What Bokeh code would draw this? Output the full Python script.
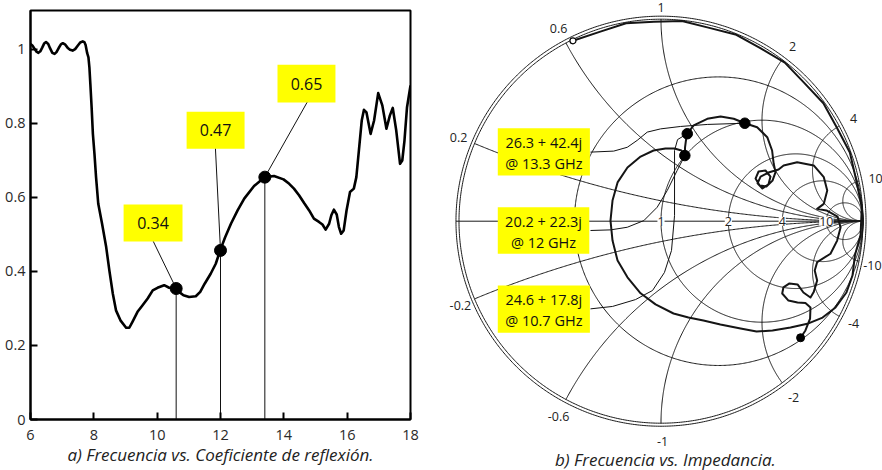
import numpy as np
from bokeh.plotting import figure
from bokeh.layouts import row
from bokeh.models import Range1d, FixedTicker
from bokeh.core.properties import value
from bokeh.embed import file_html
from bokeh.resources import INLINE

FONT = "Open Sans"
INK = "#111111"

# ---------------- panel a) data ----------------
freq = [6.0, 6.06, 6.12, 6.19, 6.25, 6.31, 6.37, 6.43, 6.49, 6.56, 6.62, 6.69, 6.76, 6.82,
        6.89, 6.96, 7.02, 7.1, 7.17, 7.25, 7.33, 7.41, 7.49, 7.57, 7.65, 7.7, 7.74, 7.79,
        7.83, 7.86, 7.89, 7.93, 7.97, 8.02, 8.07, 8.14, 8.26, 8.39, 8.49, 8.6, 8.7, 8.84,
        9.02, 9.12, 9.22, 9.38, 9.54, 9.7, 9.86, 10.01, 10.22, 10.38, 10.57, 10.69, 10.83,
        11.01, 11.22, 11.36, 11.5, 11.69, 11.85, 11.99, 12.14, 12.33, 12.54, 12.75, 13.06,
        13.27, 13.43, 13.69, 13.99, 14.17, 14.32, 14.48, 14.64, 14.8, 14.95, 15.11, 15.22,
        15.32, 15.43, 15.5, 15.58, 15.67, 15.74, 15.81, 15.89, 15.98, 16.09, 16.21, 16.29,
        16.37, 16.46, 16.53, 16.61, 16.74, 16.85, 16.98, 17.11, 17.24, 17.35, 17.44, 17.55,
        17.67, 17.74, 17.81, 17.89, 18.0]
refl = [1.015, 1.011, 1.003, 0.994, 0.991, 0.995, 1.005, 1.016, 1.02, 1.015, 1.003, 0.991,
        0.988, 0.993, 1.004, 1.014, 1.017, 1.013, 1.005, 0.999, 0.997, 1.001, 1.01, 1.019,
        1.022, 1.02, 1.012, 0.99, 0.979, 0.952, 0.907, 0.844, 0.772, 0.718, 0.655, 0.583,
        0.529, 0.466, 0.403, 0.34, 0.295, 0.268, 0.248, 0.248, 0.264, 0.291, 0.309, 0.327,
        0.349, 0.356, 0.363, 0.356, 0.354, 0.345, 0.336, 0.331, 0.333, 0.345, 0.367, 0.394,
        0.421, 0.457, 0.491, 0.529, 0.565, 0.597, 0.631, 0.646, 0.655, 0.658, 0.649, 0.637,
        0.624, 0.606, 0.585, 0.565, 0.543, 0.534, 0.527, 0.513, 0.529, 0.552, 0.567, 0.554,
        0.52, 0.502, 0.511, 0.565, 0.615, 0.624, 0.655, 0.727, 0.808, 0.837, 0.83, 0.772,
        0.808, 0.882, 0.849, 0.786, 0.822, 0.842, 0.781, 0.691, 0.7, 0.754, 0.844, 0.903]

mark_f = [10.6, 12.0, 13.4]
mark_g = [0.354, 0.457, 0.655]
mark_labels = ["0.34", "0.47", "0.65"]
box_left = [8.94, 10.93, 13.80]
box_right = [10.80, 12.76, 15.63]
box_bottom = [0.481, 0.732, 0.857]
box_top = [0.581, 0.832, 0.959]
leader_f = [9.874, 11.84, 14.74]
leader_g = [0.482, 0.733, 0.858]

x_ticks = [6, 8, 10, 12, 14, 16, 18]
y_ticks = [0, 0.2, 0.4, 0.6, 0.8, 1.0]
y_tick_labels = ["0", "0.2", "0.4", "0.6", "0.8", "1"]

# ---------------- panel b) data (reflection coefficient, re / im) ----------------
gam_re = [-0.436, -0.304, -0.173, -0.035, 0.104, 0.239, 0.373, 0.494, 0.613, 0.709, 0.804,
          0.871, 0.935, 0.966, 0.994, 0.988, 0.960, 0.948, 0.918, 0.864, 0.800, 0.730, 0.641,
          0.552, 0.473, 0.394, 0.294, 0.210, 0.136, 0.062, -0.027, -0.101, -0.166, -0.215,
          -0.240, -0.250, -0.240, -0.215, -0.166, -0.101, -0.037, 0.022, 0.067, 0.101, 0.118,
          0.119, 0.124, 0.130, 0.162, 0.229, 0.295, 0.360, 0.415, 0.476, 0.526, 0.550, 0.558,
          0.567, 0.552, 0.522, 0.488, 0.468, 0.483, 0.517, 0.542, 0.532, 0.502, 0.478, 0.493,
          0.532, 0.582, 0.607, 0.674, 0.756, 0.806, 0.823, 0.806, 0.773, 0.819, 0.874, 0.889,
          0.872, 0.839, 0.773, 0.761, 0.773, 0.756, 0.740, 0.705, 0.676, 0.636, 0.606, 0.600,
          0.631, 0.676, 0.715, 0.740, 0.738, 0.715, 0.691]
gam_im = [0.893, 0.937, 0.980, 0.987, 0.991, 0.957, 0.923, 0.855, 0.785, 0.685, 0.584,
          0.463, 0.340, 0.205, 0.070, -0.069, -0.169, -0.269, -0.353, -0.427, -0.477, -0.506,
          -0.526, -0.541, -0.546, -0.531, -0.511, -0.492, -0.477, -0.457, -0.412, -0.357,
          -0.278, -0.195, -0.096, 0.003, 0.102, 0.192, 0.266, 0.320, 0.350, 0.360, 0.360,
          0.350, 0.325, 0.365, 0.404, 0.433, 0.474, 0.507, 0.518, 0.507, 0.485, 0.465, 0.416,
          0.350, 0.284, 0.243, 0.201, 0.172, 0.177, 0.211, 0.246, 0.251, 0.221, 0.182, 0.162,
          0.187, 0.221, 0.241, 0.256, 0.276, 0.292, 0.276, 0.218, 0.152, 0.086, 0.061, 0.053,
          0.023, -0.031, -0.096, -0.161, -0.203, -0.244, -0.294, -0.351, -0.378, -0.353,
          -0.313, -0.308, -0.328, -0.358, -0.393, -0.402, -0.405, -0.427, -0.482, -0.541,
          -0.577]

smith_mark_re = [0.118, 0.130, 0.415]
smith_mark_im = [0.325, 0.433, 0.485]

callout_line1 = ["26.3 + 42.4j", "20.2 + 22.3j", "24.6 + 17.8j"]
callout_line2 = ["@ 13.3 GHz", "@ 12 GHz", "@ 10.7 GHz"]
callout_left = [-0.808, -0.808, -0.808]
callout_right = [-0.352, -0.355, -0.352]
callout_top = [0.460, 0.069, -0.318]
callout_bottom = [0.226, -0.161, -0.552]
callout_y1 = [0.390, -0.001, -0.388]
callout_y2 = [0.285, -0.105, -0.492]

leader1_re = [-0.349, -0.234, -0.167, -0.118, -0.068, -0.002, 0.097, 0.229, 0.415]
leader1_im = [0.342, 0.347, 0.366, 0.400, 0.441, 0.457, 0.469, 0.479, 0.485]
leader2_re = [-0.349, -0.250, -0.167, -0.085, -0.019, 0.031, 0.080, 0.118]
leader2_im = [-0.046, -0.043, -0.030, 0.003, 0.069, 0.152, 0.251, 0.325]
leader3_re = [-0.349, -0.240, -0.126, -0.042, 0.017, 0.052, 0.067, 0.067, 0.067, 0.082, 0.130]
leader3_im = [-0.434, -0.422, -0.388, -0.343, -0.254, -0.145, 0.028, 0.226, 0.350, 0.404, 0.433]

r_grid = [0.4, 1, 2, 4, 10]
x_grid = [0.2, 0.6, 1, 2, 4, 10]
r_axis_labels = [1, 2, 4, 10]

edge_labels = ["1", "2", "4", "10", "-10", "-4", "-2", "-1", "-0.6", "-0.2", "0.2", "0.6"]
edge_re = [0.0, 0.651, 0.953, 1.062, 1.047, 0.953, 0.656, 0.0074, -0.507, -0.993, -1.002, -0.507]
edge_im = [1.058, 0.865, 0.508, 0.211, -0.219, -0.506, -0.872, -1.093, -0.969, -0.417, 0.414, 0.954]

# ================= panel a =================
p1 = figure(width=440, height=470, x_range=Range1d(6, 18), y_range=Range1d(0, 1.1054),
            output_backend="svg", toolbar_location=None, title=None,
            min_border_left=30, min_border_right=30, min_border_top=10, min_border_bottom=51)
p1.frame_align = False
p1.grid.visible = False
p1.outline_line_color = "black"
p1.outline_line_width = 2
p1.xaxis.ticker = FixedTicker(ticks=x_ticks)
p1.yaxis.ticker = FixedTicker(ticks=y_ticks)
p1.yaxis.major_label_overrides = {t: l for t, l in zip(y_ticks, y_tick_labels)}
for ax in (p1.xaxis[0], p1.yaxis[0]):
    ax.axis_line_width = 2
    ax.axis_line_color = "black"
    ax.major_tick_in = 7
    ax.major_tick_out = 0
    ax.major_tick_line_width = 2
    ax.minor_tick_line_color = None
    ax.major_label_text_font = FONT
    ax.major_label_text_font_size = "14.5px"
    ax.major_label_text_color = "#2a2a2a"
p1.yaxis.major_label_standoff = 5
p1.xaxis.major_label_standoff = 10
p1.xaxis.axis_label = "a) Frecuencia vs. Coeficiente de reflexión."
p1.xaxis.axis_label_text_font = FONT
p1.xaxis.axis_label_text_font_style = "italic"
p1.xaxis.axis_label_text_font_size = "17px"
p1.xaxis.axis_label_text_color = "#222222"
p1.xaxis.axis_label_standoff = 0

p1.segment(x0=mark_f, y0=[0] * len(mark_f), x1=mark_f, y1=mark_g, line_color=INK, line_width=1)
p1.segment(x0=leader_f, y0=leader_g, x1=mark_f, y1=mark_g, line_color=INK, line_width=1)
p1.line(freq, refl, line_color="black", line_width=2.6, line_join="round")
p1.scatter(mark_f, mark_g, size=12, color="black")
p1.quad(left=box_left, right=box_right, bottom=box_bottom, top=box_top,
        fill_color="#ffff00", line_color=None)
p1.text(x=[(a + b) / 2 for a, b in zip(box_left, box_right)],
        y=[(a + b) / 2 for a, b in zip(box_bottom, box_top)], text=mark_labels,
        text_align="center", text_baseline="middle", text_font=value(FONT),
        text_font_size="16px", text_color=INK)

# ================= panel b (Smith chart) =================
S = 202.0
p2 = figure(width=442, height=470, x_range=Range1d(-220.5 / S, 221.5 / S),
            y_range=Range1d(-249.3 / S, 220.7 / S), x_axis_type=None, y_axis_type=None,
            output_backend="svg", toolbar_location=None, min_border=0, title=None,
            outline_line_color=None)
p2.frame_align = False
p2.grid.visible = False

t = np.linspace(0, 2 * np.pi, 721)
gx, gy = [], []
gx.append(np.cos(t)); gy.append(np.sin(t))
gx.append(1.015 * np.cos(t)); gy.append(1.015 * np.sin(t))
for r in r_grid:
    c, rad = r / (1 + r), 1 / (1 + r)
    gx.append(c + rad * np.cos(t)); gy.append(rad * np.sin(t))
for xv in x_grid:
    cy, rad = 1 / xv, 1 / xv
    ex, ey = (xv ** 2 - 1) / (xv ** 2 + 1), 2 * xv / (xv ** 2 + 1)
    phi_e = np.arctan2(ey - cy, ex - 1) % (2 * np.pi)
    ph = np.linspace(phi_e, 1.5 * np.pi, 300)
    ax_, ay_ = 1 + rad * np.cos(ph), cy + rad * np.sin(ph)
    gx.append(ax_); gy.append(ay_)
    gx.append(ax_); gy.append(-ay_)
gx.append(np.array([-1.015, 1.0])); gy.append(np.array([0.0, 0.0]))
p2.multi_line([list(a) for a in gx], [list(b) for b in gy], line_color="#1a1a1a", line_width=1)

# axis resistance labels with white background
r_lab_x = [(r - 1) / (r + 1) for r in r_axis_labels]
p2.text(x=r_lab_x, y=[0] * len(r_lab_x), text=[str(r) for r in r_axis_labels],
        text_align="center", text_baseline="middle", text_font=value(FONT),
        text_font_size="12.5px", text_color="#222222", background_fill_color="white",
        padding=0)

# edge labels
p2.text(x=edge_re, y=edge_im, text=edge_labels, text_align="center",
        text_baseline="middle", text_font=value(FONT), text_font_size="12.5px",
        text_color="#222222")

# leader lines
p2.multi_line([leader1_re, leader2_re, leader3_re], [leader1_im, leader2_im, leader3_im],
              line_color=INK, line_width=1)

# data trace
p2.line(gam_re, gam_im, line_color="#151515", line_width=2, line_join="round")
p2.scatter(smith_mark_re, smith_mark_im, size=10.5, color="black")
p2.scatter([gam_re[-1]], [gam_im[-1]], size=8, color="black")
p2.scatter([gam_re[0]], [gam_im[0]], size=6, fill_color="white", line_color="black",
           line_width=1.2)

# callout boxes
p2.quad(left=callout_left, right=callout_right, bottom=callout_bottom, top=callout_top,
        fill_color="#ffff00", line_color=None)
cx = [(a + b) / 2 for a, b in zip(callout_left, callout_right)]
p2.text(x=cx, y=callout_y1, text=callout_line1, text_align="center",
        text_baseline="middle", text_font=value(FONT), text_font_size="14.5px",
        text_color=INK)
p2.text(x=cx, y=callout_y2, text=callout_line2, text_align="center",
        text_baseline="middle", text_font=value(FONT), text_font_size="14.5px",
        text_color=INK)

# caption
p2.text(x=[0.022], y=[-1.179], text=["b) Frecuencia vs. Impedancia."], text_align="center",
        text_baseline="middle", text_font=value(FONT), text_font_style="italic",
        text_font_size="17px", text_color="#222222")

layout = row(p1, p2)
open("out.html", "w").write(file_html(layout, INLINE))
